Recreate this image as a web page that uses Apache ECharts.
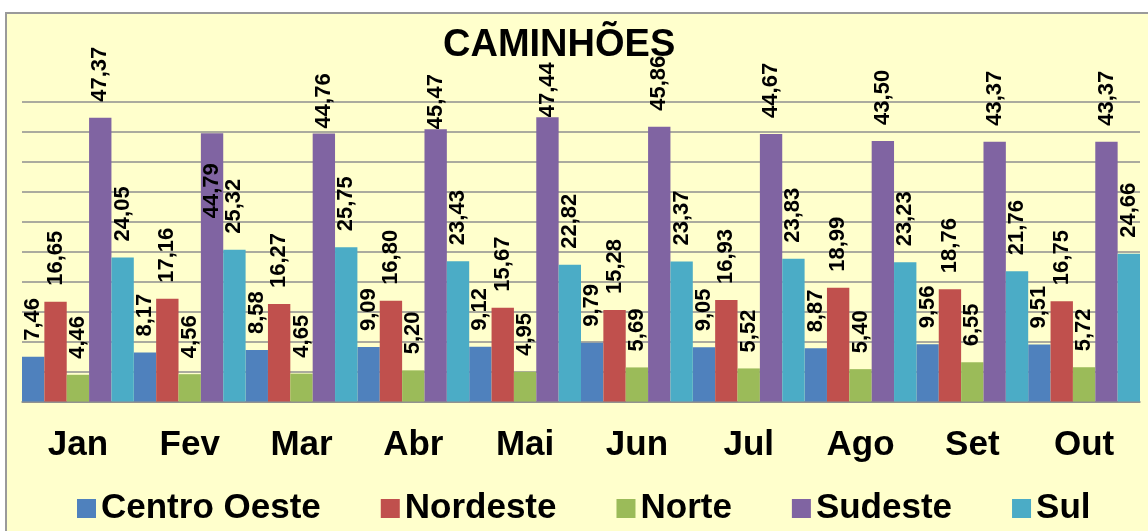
<!DOCTYPE html>
<html>
<head>
<meta charset="utf-8">
<script src="https://cdn.jsdelivr.net/npm/echarts@6/dist/echarts.min.js"></script>
<style>
html, body { margin: 0; padding: 0; background: #fff; overflow: hidden; }
.frame {
  position: absolute; left: 5px; top: 12px; width: 1300px; height: 700px;
  background: #ffffcc; border-left: 2px solid #9a9a9a; border-top: 2px solid #9a9a9a;
}
#chart { position: absolute; left: 0; top: 0; width: 1148px; height: 531px; }
</style>
</head>
<body>
<div class="frame"></div>
<div id="chart"></div>
<script>
var months = ['Jan', 'Fev', 'Mar', 'Abr', 'Mai', 'Jun', 'Jul', 'Ago', 'Set', 'Out']
var seriesNames = ['Centro Oeste', 'Nordeste', 'Norte', 'Sudeste', 'Sul']
var centroOeste = [7.46, 8.17, 8.58, 9.09, 9.12, 9.79, 9.05, 8.87, 9.56, 9.51]
var nordeste = [16.65, 17.16, 16.27, 16.80, 15.67, 15.28, 16.93, 18.99, 18.76, 16.75]
var norte = [4.46, 4.56, 4.65, 5.20, 4.95, 5.69, 5.52, 5.40, 6.55, 5.72]
var sudeste = [47.37, 44.79, 44.76, 45.47, 47.44, 45.86, 44.67, 43.50, 43.37, 43.37]
var sul = [24.05, 25.32, 25.75, 23.43, 22.82, 23.37, 23.83, 23.23, 21.76, 24.66]

var colors = ['#4f81bd', '#c0504d', '#9bbb59', '#8064a2', '#4bacc6']
var font = "'Liberation Sans', Arial, sans-serif"

function fmt(p) {
  return p.value.toFixed(2).replace('.', ',')
}

// rotulos do Sudeste que o Excel deslocou
var sudesteLabel = {
  1: { position: 'insideTop', distance: 30, align: 'right' },
  2: { distance: 5 },
  3: { distance: 0 },
  4: { distance: 0 }
}

function makeSeries(name, values, idx) {
  return {
    name: name,
    type: 'bar',
    barGap: '0%',
    barCategoryGap: '0%',
    itemStyle: { color: colors[idx] },
    label: {
      show: true,
      position: 'top',
      distance: 16,
      rotate: 90,
      align: 'left',
      verticalAlign: 'middle',
      formatter: fmt,
      color: '#000',
      fontFamily: font,
      fontWeight: 'bold',
      fontSize: 22
    },
    data: values.map(function (v, i) {
      if (name === 'Sudeste' && sudesteLabel[i]) {
        return { value: v, label: sudesteLabel[i] }
      }
      return v
    })
  }
}

var chart = echarts.init(document.getElementById('chart'))
chart.setOption({
  animation: false,
  backgroundColor: 'transparent',
  title: {
    text: 'CAMINHÕES',
    left: 443,
    top: 27,
    padding: 0,
    textStyle: { fontFamily: font, fontWeight: 'bold', fontSize: 38, color: '#000' }
  },
  legend: {
    data: seriesNames,
    left: 77,
    top: 491,
    padding: 0,
    itemGap: 60,
    itemWidth: 19,
    itemHeight: 19,
    icon: 'rect',
    textStyle: { fontFamily: font, fontWeight: 'bold', fontSize: 35, color: '#000' }
  },
  grid: { left: 22, right: 8, top: 102, bottom: 129.5 },
  xAxis: {
    type: 'category',
    data: months,
    axisLine: { lineStyle: { color: '#8a8a8a', width: 1.5 } },
    axisTick: { length: 10, lineStyle: { color: '#8a8a8a', width: 1.5 } },
    axisLabel: {
      interval: 0,
      margin: 26,
      fontFamily: font,
      fontWeight: 'bold',
      fontSize: 35,
      color: '#000'
    }
  },
  yAxis: {
    type: 'value',
    min: 0,
    max: 50,
    interval: 5,
    axisLine: { show: false },
    axisTick: { show: false },
    axisLabel: { show: false },
    splitLine: { lineStyle: { color: '#8f8f8f', width: 1.5 } }
  },
  series: [
    makeSeries(seriesNames[0], centroOeste, 0),
    makeSeries(seriesNames[1], nordeste, 1),
    makeSeries(seriesNames[2], norte, 2),
    makeSeries(seriesNames[3], sudeste, 3),
    makeSeries(seriesNames[4], sul, 4)
  ]
})
</script>
</body>
</html>
